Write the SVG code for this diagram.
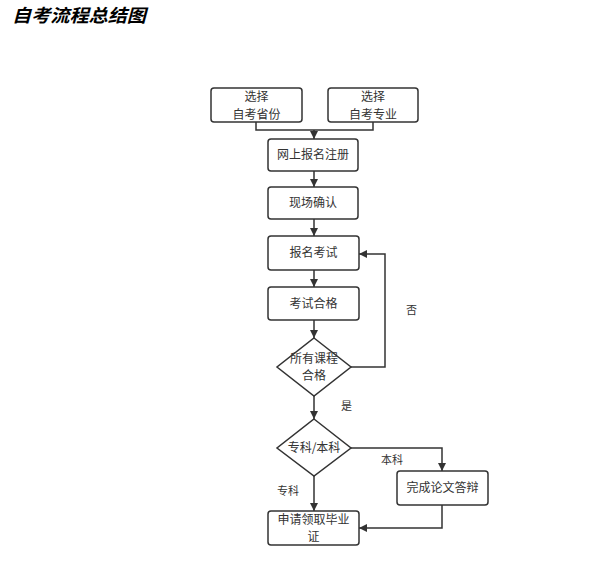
<svg xmlns="http://www.w3.org/2000/svg" width="601" height="569" viewBox="0 0 601 569">
<defs>
<style>
.box{fill:#fff;stroke:#333;stroke-width:1.5}
.t{font-family:"Noto Sans CJK SC","Noto Sans",sans-serif;font-size:12px;fill:#333;text-anchor:middle}
.lbl{font-family:"Noto Sans CJK SC","Noto Sans",sans-serif;font-size:11px;fill:#333}
.ln{fill:none;stroke:#333;stroke-width:1.5}
</style>
<marker id="ah" viewBox="0 0 10 10" refX="10" refY="5" markerWidth="8" markerHeight="8" markerUnits="userSpaceOnUse" orient="auto">
<path d="M0,0 L10,5 L0,10 z" fill="#333"/>
</marker>
</defs>
<rect width="601" height="569" fill="#fff"/>
<text x="12" y="21.5" font-family="'Noto Sans CJK SC',sans-serif" font-size="18" font-weight="bold" font-style="italic" fill="#000" textLength="134" lengthAdjust="spacingAndGlyphs">自考流程总结图</text>

<g id="connectors">
<path class="ln" d="M256,122 V130 H373 V122"/>
<path class="ln" d="M314,130 V139" marker-end="url(#ah)"/>
<path class="ln" d="M314,171 V187" marker-end="url(#ah)"/>
<path class="ln" d="M314,219 V236" marker-end="url(#ah)"/>
<path class="ln" d="M314,270 V287" marker-end="url(#ah)"/>
<path class="ln" d="M314,320 V338" marker-end="url(#ah)"/>
<path class="ln" d="M351,367 H385 V254 H359" marker-end="url(#ah)"/>
<path class="ln" d="M314,396 V419" marker-end="url(#ah)"/>
<path class="ln" d="M351,448 H442 V471" marker-end="url(#ah)"/>
<path class="ln" d="M314,476 V511" marker-end="url(#ah)"/>
<path class="ln" d="M442,505 V528 H359" marker-end="url(#ah)"/>
<text class="lbl" x="406" y="314">否</text>
<text class="lbl" x="341" y="410">是</text>
<text class="lbl" x="381" y="464">本科</text>
<text class="lbl" x="277" y="495" font-size="10">专科</text>
</g>

<g id="n1"><rect class="box" x="211" y="88" width="91" height="34" rx="3"/><text class="t" x="256.5" y="101">选择</text><text class="t" x="256.5" y="118.5">自考省份</text></g>
<g id="n2"><rect class="box" x="328" y="88" width="90" height="34" rx="3"/><text class="t" x="373" y="101">选择</text><text class="t" x="373" y="118.5">自考专业</text></g>
<g id="n3"><rect class="box" x="268" y="139" width="90" height="32" rx="3"/><text class="t" x="313" y="159">网上报名注册</text></g>
<g id="n4"><rect class="box" x="268" y="187" width="90" height="32" rx="3"/><text class="t" x="313" y="207">现场确认</text></g>
<g id="n5"><rect class="box" x="268" y="236" width="91" height="34" rx="3"/><text class="t" x="313.5" y="257">报名考试</text></g>
<g id="n6"><rect class="box" x="268" y="287" width="91" height="33" rx="3"/><text class="t" x="313.5" y="308">考试合格</text></g>
<g id="n7"><polygon class="box" points="314,338 351,367 314,396 277,367"/><text class="t" x="314" y="363">所有课程</text><text class="t" x="314" y="380">合格</text></g>
<g id="n8"><polygon class="box" points="314,419 351,448 314,476 277,448"/><text class="t" x="314" y="452">专科/本科</text></g>
<g id="n9"><rect class="box" x="397" y="471" width="91" height="34" rx="3"/><text class="t" x="442.5" y="492">完成论文答辩</text></g>
<g id="n10"><rect class="box" x="268" y="511" width="91" height="34" rx="3"/><text class="t" x="313.5" y="523.5">申请领取毕业</text><text class="t" x="313.5" y="541">证</text></g>
</svg>
